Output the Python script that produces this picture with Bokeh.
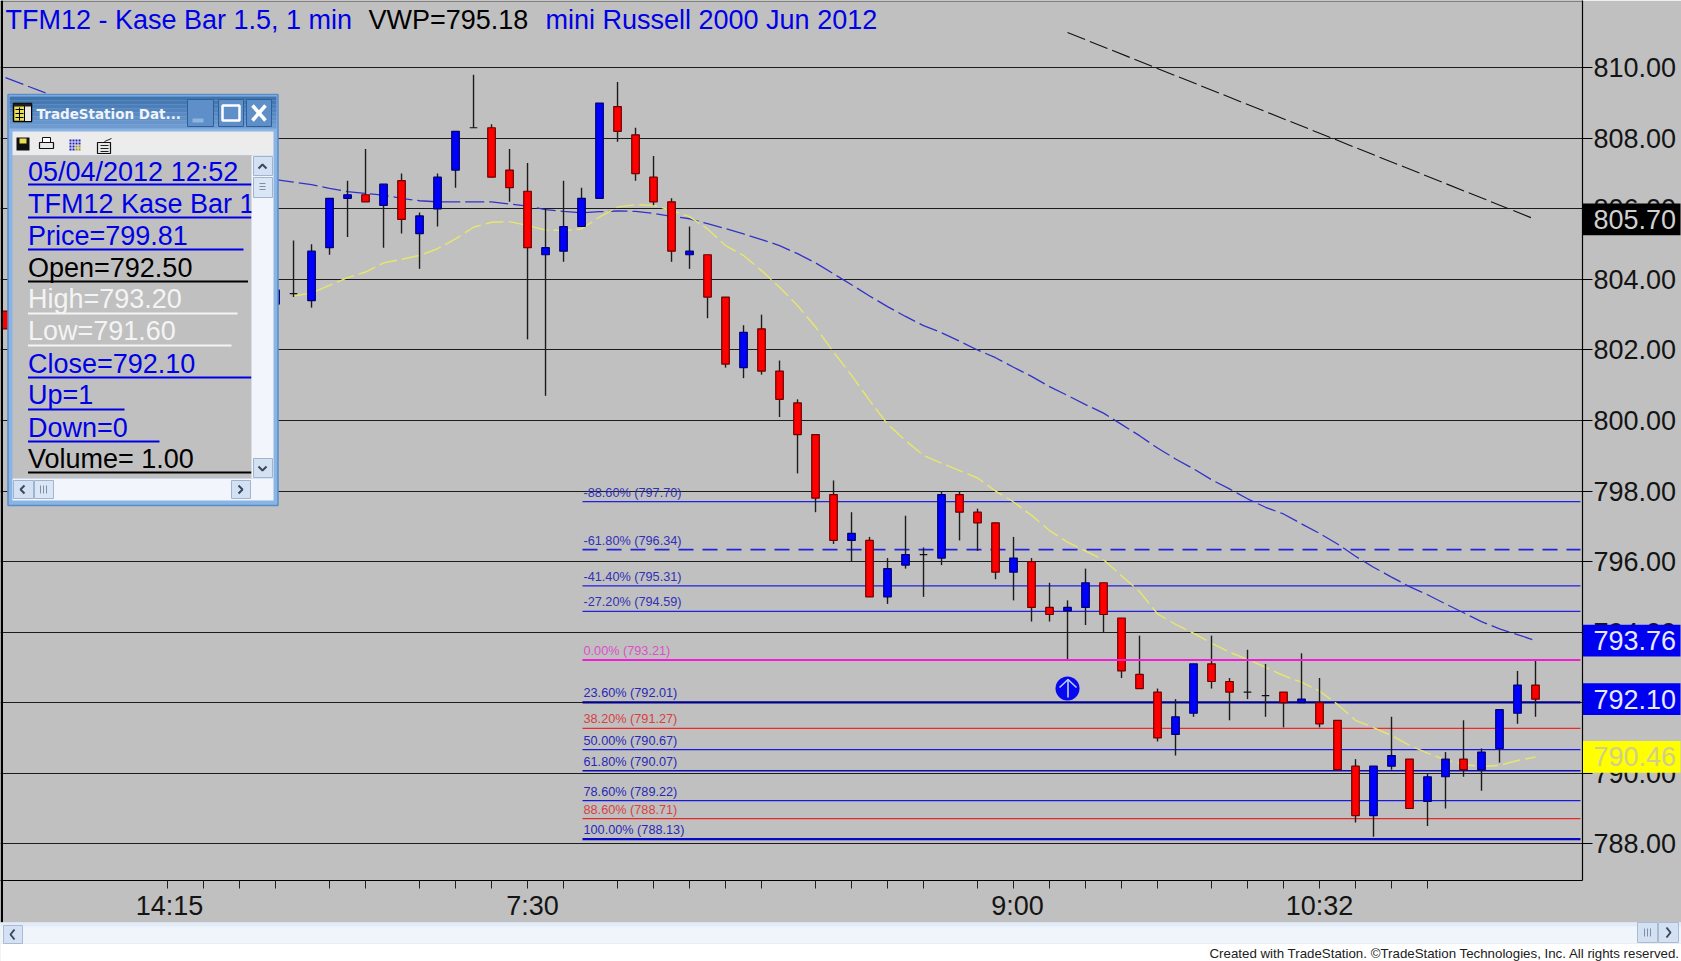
from bokeh.embed import file_html
from bokeh.resources import INLINE
from bokeh.plotting import figure
from bokeh.layouts import row
from bokeh.models import Range1d, FixedTicker, ColumnDataSource, NumeralTickFormatter
from bokeh.core.properties import value

# ---------- data (bars counted back from the last one) ----------
bar_back = [85, 70] + list(range(69, -1, -1))
open_ = [803.1, 803.3, 803.6, 803.4, 804.9, 806.3, 806.4, 806.1, 806.8, 805.3, 806.0, 807.1, 808.3, 808.3, 807.1,
         806.5, 804.7, 804.8, 805.5, 806.3, 808.9, 808.1, 806.9, 806.2, 804.7, 804.7, 803.5, 801.5, 802.6, 801.4,
         800.5, 799.6, 797.9, 796.6, 796.6, 795.0, 795.9, 796.2, 796.1, 797.9, 797.4, 797.1, 795.7, 796.0, 794.7,
         794.6, 794.7, 795.4, 794.4, 792.8, 792.3, 791.1, 791.7, 793.1, 792.6, 792.3, 792.2, 792.3, 792.0, 792.0,
         791.5, 790.2, 788.8, 790.2, 790.4, 789.2, 789.9, 790.4, 790.1, 790.7, 791.7, 792.5]
high = [803.1, 803.9, 805.1, 805.0, 806.3, 806.8, 807.7, 806.7, 807.0, 805.9, 807.0, 808.2, 809.8, 808.4, 807.7,
        807.3, 806.0, 806.8, 806.6, 809.0, 809.6, 808.3, 807.5, 806.3, 805.5, 804.7, 803.5, 802.7, 803.0, 801.7,
        800.6, 799.6, 798.3, 797.4, 796.7, 796.1, 797.3, 796.4, 798.0, 798.0, 797.5, 797.1, 796.7, 796.1, 795.4,
        794.9, 795.8, 795.4, 794.4, 793.9, 792.4, 792.1, 793.1, 793.9, 792.7, 793.5, 793.1, 792.3, 793.4, 792.7,
        791.5, 790.4, 790.2, 791.6, 790.4, 790.0, 790.6, 791.5, 790.7, 791.8, 792.9, 793.2]
low = [802.6, 803.1, 803.5, 803.2, 804.7, 805.2, 806.2, 804.9, 805.3, 804.3, 805.5, 806.6, 808.3, 806.9, 806.2,
       802.3, 800.7, 804.5, 805.5, 806.3, 807.9, 806.8, 806.1, 804.5, 804.3, 802.9, 801.5, 801.2, 801.3, 800.1,
       798.5, 797.4, 796.5, 796.0, 795.0, 794.8, 795.8, 795.0, 795.9, 796.6, 796.3, 795.5, 794.9, 794.3, 794.3,
       793.2, 794.2, 794.0, 792.7, 792.4, 790.9, 790.5, 791.6, 792.4, 791.5, 792.1, 791.6, 791.3, 792.0, 791.3,
       790.1, 788.6, 788.2, 790.1, 789.0, 788.5, 789.0, 789.9, 789.5, 790.3, 791.4, 791.6]
close = [802.6, 803.7, 803.6, 804.8, 806.3, 806.4, 806.2, 806.7, 805.7, 805.8, 806.9, 808.2, 808.3, 806.9, 806.6,
         804.9, 804.9, 805.5, 806.3, 809.0, 808.2, 807.0, 806.2, 804.8, 804.8, 803.5, 801.6, 802.5, 801.4, 800.6,
         799.6, 797.8, 796.6, 796.8, 795.0, 795.8, 796.2, 796.2, 797.9, 797.4, 797.1, 795.7, 796.1, 794.7, 794.5,
         794.7, 795.4, 794.5, 792.9, 792.4, 791.0, 791.6, 793.1, 792.6, 792.3, 792.3, 792.2, 792.0, 792.1, 791.4,
         790.1, 788.8, 790.2, 790.5, 789.0, 789.9, 790.4, 790.1, 790.6, 791.8, 792.5, 792.1]

blue_back = [85, 83] + list(range(70, -1, -1))
blue_ma = [809.72, 809.33, 806.83, 806.76, 806.69, 806.58, 806.49, 806.44, 806.39, 806.30, 806.23, 806.20, 806.20,
           806.20, 806.20, 806.14, 806.08, 805.98, 805.93, 805.89, 805.92, 805.94, 805.93, 805.87, 805.79, 805.72,
           805.58, 805.44, 805.29, 805.13, 804.96, 804.73, 804.47, 804.16, 803.85, 803.53, 803.23, 802.95, 802.69,
           802.49, 802.25, 802.00, 801.78, 801.51, 801.25, 800.96, 800.71, 800.45, 800.21, 799.89, 799.57, 799.22,
           798.91, 798.63, 798.32, 798.06, 797.78, 797.54, 797.35, 797.07, 796.80, 796.50, 796.15, 795.84, 795.56,
           795.29, 795.06, 794.80, 794.55, 794.30, 794.09, 793.93, 793.76]
yellow_back = list(range(69, -1, -1))
yellow_ma = [803.53, 803.62, 803.83, 804.05, 804.21, 804.47, 804.57, 804.68, 804.87, 805.15, 805.48, 805.62, 805.64,
             805.53, 805.40, 805.39, 805.43, 805.77, 806.05, 806.12, 806.10, 805.96, 805.78, 805.43, 804.96, 804.68,
             804.25, 803.78, 803.26, 802.65, 801.94, 801.28, 800.57, 799.90, 799.43, 799.01, 798.79, 798.58, 798.37,
             798.00, 797.69, 797.31, 796.88, 796.55, 796.30, 796.05, 795.60, 795.15, 794.52, 794.22, 793.97, 793.69,
             793.43, 793.23, 793.00, 792.77, 792.58, 792.33, 791.95, 791.50, 791.29, 791.07, 790.79, 790.57, 790.38,
             790.25, 790.19, 790.22, 790.36, 790.46]
trend_back = [26, 0]
trend_price = [811.0, 805.70]

fib_pct = ["-88.60%", "-61.80%", "-41.40%", "-27.20%", "0.00%", "23.60%", "38.20%", "50.00%", "61.80%", "78.60%", "88.60%", "100.00%"]
fib_price = [797.70, 796.34, 795.31, 794.59, 793.21, 792.01, 791.27, 790.67, 790.07, 789.22, 788.71, 788.13]
fib_line_color = ["#2222dd", "#2222dd", "#2222dd", "#2222dd", "#f01ed2", "#00008c", "#f02828", "#1818dc", "#0c0cb4", "#1818dc", "#e62828", "#0808c8"]
fib_text_color = ["#3030b8", "#3030b8", "#3030b8", "#3030b8", "#dc50c8", "#2828b8", "#d84040", "#2828b8", "#2828b8", "#2828b8", "#d84040", "#2828b8"]
fib_width = [1.2, 1.6, 1.2, 1.2, 2, 2.2, 1.2, 1.2, 1.6, 1.2, 1.2, 2.2]

price_ticks = [810, 808, 806, 804, 802, 800, 798, 796, 794, 792, 790, 788]
time_tick_back = [76, 74, 72, 70, 67, 65, 62, 60, 58, 56, 54, 51, 49, 47, 45, 43, 40, 38, 36, 34, 31, 29, 27, 25, 23, 21, 18, 16, 14, 12, 10, 8, 6]
time_labels = {75.89: "14:15", 55.72: "7:30", 28.78: "9:00", 12: "10:32"}

flag_price = [805.70, 793.76, 792.10, 790.46]
flag_fill = ["#000000", "#0000f0", "#0000f0", "#ffff00"]
flag_text = ["#d0d0d0", "#e8e8ff", "#e8e8ff", "#cfcf8c"]

panel_rows = ["05/04/2012 12:52", "TFM12 Kase Bar 1.", "Price=799.81", "Open=792.50", "High=793.20",
              "Low=791.60", "Close=792.10", "Up=1", "Down=0", "Volume= 1.00"]
panel_color = ["#0000e6", "#0000e6", "#0000e6", "#000000", "#f4f4f4", "#f4f4f4", "#0000e6", "#0000e6", "#0000e6", "#000000"]
panel_rule_end = [251, 251, 243, 247.5, 237, 231, 251, 124, 159, 251]

FONT = value("Liberation Sans")
BG = "#c0c0c0"

# ---------- main chart ----------
p = figure(width=1681, height=961, output_backend="svg", toolbar_location=None,
           x_range=Range1d(-85.28, 2.611), y_range=Range1d(786.958, 811.908),
           y_axis_location="right", x_axis_location="below",
           min_border_left=0, min_border_right=99, min_border_top=0, min_border_bottom=81,
           background_fill_color=BG, border_fill_color=BG, outline_line_color=None)
p.extra_x_ranges = {"px": Range1d(0, 1582)}
p.extra_y_ranges = {"py": Range1d(880, 0)}

p.xgrid.visible = False
p.ygrid.ticker = FixedTicker(ticks=price_ticks)
p.ygrid.grid_line_color = "#1c1c1c"
p.ygrid.grid_line_width = 1.2

ax = p.yaxis[0]
ax.ticker = FixedTicker(ticks=price_ticks)
ax.formatter = NumeralTickFormatter(format="0.00")
ax.major_label_text_font = "Liberation Sans"
ax.major_label_text_font_size = "27px"
ax.major_label_text_color = "#141414"
ax.major_tick_out = 10
ax.major_tick_in = 0
ax.minor_tick_line_color = None
ax.major_tick_line_color = "#000000"
ax.axis_line_color = "#000000"
ax.axis_line_width = 1.2
ax.major_label_standoff = 1

bx = p.xaxis[0]
bx.ticker = FixedTicker(ticks=[-k for k in time_labels], minor_ticks=[-k for k in time_tick_back])
bx.major_label_overrides = {-k: t for k, t in time_labels.items()}
bx.major_label_text_font = "Liberation Sans"
bx.major_label_text_font_size = "27px"
bx.major_label_text_color = "#141414"
bx.major_tick_line_color = None
bx.major_tick_out = 8
bx.major_tick_in = 0
bx.minor_tick_out = 8
bx.minor_tick_in = 0
bx.minor_tick_line_color = "#202020"
bx.axis_line_color = "#000000"
bx.axis_line_width = 1.2
bx.major_label_standoff = 2

PX = dict(x_range_name="px", y_range_name="py")

# top edge
p.quad(left=0, right=1582, top=0, bottom=1.5, fill_color="#808080", line_color=None, **PX)

# fibonacci levels (except the magenta one, on top of bars)
for i, (lv, col, w) in enumerate(zip(fib_price, fib_line_color, fib_width)):
    if fib_pct[i] == "0.00%":
        continue
    p.line([582, 1580], [lv, lv], x_range_name="px", line_color=col, line_width=w,
           line_dash="15 9" if fib_pct[i] == "-61.80%" else "solid")
p.text(x=[583] * len(fib_price), y=fib_price, text=[f"{a} ({b:.2f})" for a, b in zip(fib_pct, fib_price)],
       x_range_name="px", text_color=fib_text_color, text_font=FONT, text_font_size="12.7px",
       text_baseline="bottom", y_offset=-2)

# moving averages & trend
p.line([-k for k in blue_back], blue_ma, line_color="#3232c8", line_width=1.3, line_dash="19 5")
p.line([-k for k in yellow_back], yellow_ma, line_color="#e6e66e", line_width=1.4, line_dash="18 5")
p.line([-k for k in trend_back], trend_price, line_color="#101010", line_width=1.1, line_dash="19 5")

# candles
xs = [-k for k in bar_back]
fills = ["#0000ff" if c > o_ else "#ff0000" if c < o_ else "#000000" for o_, c in zip(open_, close)]
edges = ["#00006e" if c > o_ else "#6e0000" if c < o_ else "#101010" for o_, c in zip(open_, close)]
src = ColumnDataSource(dict(x=xs, h=high, l=low, top=[max(a, b) for a, b in zip(open_, close)],
                            bot=[min(a, b) for a, b in zip(open_, close)], fill=fills, edge=edges))
p.segment("x", "h", "x", "l", source=src, line_color="#1c1c1c", line_width=1.4)
p.vbar(x="x", top="top", bottom="bot", width=0.42, source=src, fill_color="fill", line_color="edge", line_width=1.2)

# 0% level on top
p.line([582, 1580], [fib_price[4]] * 2, x_range_name="px", line_color=fib_line_color[4], line_width=2)

# signal arrow
p.scatter([-26], [792.4], size=24, fill_color="#0808f0", line_color=None)
p.multi_line([[1067.5, 1067.5], [1059, 1067.5, 1076]], [[697, 679], [687, 679, 687]],
             line_color="#b8d0f8", line_width=1.6, **PX)

# title
p.text(x=[5, 368, 545], y=[19.5] * 3,
       text=["TFM12 - Kase Bar 1.5, 1 min", "VWP=795.18", "mini Russell 2000 Jun 2012"],
       text_color=["#0000e6", "#000000", "#0000e6"], text_font=FONT, text_font_size="27px",
       text_baseline="middle", **PX)


# ---------- floating data window ----------
def box(l, r, t, b, fill, line=None, w=1):
    p.quad(left=l, right=r, top=t, bottom=b, fill_color=fill, line_color=line, line_width=w, **PX)


box(7.5, 277.5, 94, 505, "#8ab4e4", "#5a8cc8", 1.5)
strips = ["#3f75ad", "#4679b2", "#4c7fb8", "#5384bd", "#5a8ac3", "#6190c8", "#6896cc", "#709bd0"]
for i, c in enumerate(strips):
    box(9, 276, 96 + i * 4, 100 + i * 4, c)
box(12, 273, 131, 155, "#ececec")
box(12, 252, 155, 478, BG)
p.text(x=[27.5] * 10, y=[171, 203, 235, 267, 298, 330, 363, 394, 427, 458], text=panel_rows,
       text_color=panel_color, text_font=FONT, text_font_size="27px", text_baseline="middle", **PX)
for i, yr in enumerate([184, 217, 249, 281, 313, 345, 377, 409, 441, 472]):
    p.line([27.5, panel_rule_end[i]], [yr, yr], line_color=panel_color[i], line_width=2, **PX)
box(251, 273, 155, 478, "#f2f6fc")
box(253, 272, 156, 175, "#d4e1f2", "#9fb4d0")
box(253, 272, 177, 197, "#dbe6f5", "#9fb4d0")
box(253, 272, 458, 477, "#d4e1f2", "#9fb4d0")
box(12, 273, 478, 500, "#f2f6fc")
box(13, 33, 480, 498, "#d4e1f2", "#9fb4d0")
box(34, 53, 480, 498, "#dbe6f5", "#9fb4d0")
box(231, 250, 480, 498, "#d4e1f2", "#9fb4d0")
p.multi_line([[258, 262, 266], [258, 262, 266], [24, 20, 24], [238, 242, 238]],
             [[168, 164, 168], [466, 470, 466], [485, 489, 493], [485, 489, 493]],
             line_color="#384860", line_width=2, **PX)
p.multi_line([[259, 265], [259, 265], [259, 265], [40, 40], [43, 43], [46, 46]],
             [[183, 183], [186, 186], [189, 189], [485, 493], [485, 493], [485, 493]],
             line_color="#7f8ea8", line_width=1, **PX)
# title bar
box(13, 31, 103, 121, "#e8e050", "#000000", 1.5)
box(24, 31, 103, 121, "#e8e8e8", "#000000", 1)
box(13, 31, 103, 106, "#202020")
p.multi_line([[15, 23], [15, 23], [15, 23], [19, 19]], [[109, 109], [113, 113], [117, 117], [107, 120]],
             line_color="#000000", line_width=1, **PX)
p.text(x=[36], y=[113], text=["TradeStation Dat..."], text_color="#f0f4fa",
       text_font=value("DejaVu Sans"), text_font_style="bold", text_font_size="13.5px", text_baseline="middle", **PX)
box(187, 213, 99, 126, "#5e8fc8", "#2f5f98")
box(218, 243, 99, 126, "#5e8fc8", "#2f5f98")
box(246, 271, 99, 126, "#5e8fc8", "#2f5f98")
box(192, 203, 118, 122, "#8fb4e0")
p.quad(left=222, right=239, top=105, bottom=120, fill_color=None, line_color="#ffffff", line_width=2.5, **PX)
p.multi_line([[252, 265], [265, 252]], [[105, 120], [105, 120]], line_color="#ffffff", line_width=3.5, **PX)
# toolbar icons
box(16, 29, 137, 150, "#101010")
box(19, 26, 138, 143, "#e8e050")
box(39, 53, 142, 148, "#e8e8e8", "#101010", 1.2)
box(42, 50, 137, 142, "#ffffff", "#101010", 1)
for yi in range(4):
    for xi in range(4):
        box(69 + xi * 3, 71 + xi * 3, 139 + yi * 3, 141 + yi * 3, "#2020c0" if xi < 2 or yi < 2 else "#a09020")
box(97, 110, 142, 153, "#e8e8e8", "#101010", 1.2)
p.multi_line([[100, 108], [100, 108], [100, 108], [104, 111]], [[145, 145], [148, 148], [151, 151], [141, 138]],
             line_color="#202020", line_width=1, **PX)

# ---------- transparent overlay: price flags, window bottom strip, footer ----------
o = figure(frame_width=1681, frame_height=961, output_backend="svg", toolbar_location=None,
           x_range=Range1d(0, 1681), y_range=Range1d(784.661, 811.908),
           x_axis_location=None, y_axis_location=None,
           min_border_left=0, min_border_right=0, min_border_top=0, min_border_bottom=0,
           background_fill_color=None, border_fill_color=None, outline_line_color=None,
           margin=(0, 0, 0, -1681))
o.grid.visible = False
o.extra_y_ranges = {"py": Range1d(961, 0)}
OY = dict(y_range_name="py")

o.quad(left=0, right=2.5, top=0, bottom=922, fill_color="#000000", line_color=None, **OY)
o.quad(left=0, right=1681, top=922, bottom=943, fill_color="#f0f5fc", line_color=None, **OY)
o.quad(left=0, right=1681, top=922, bottom=926, fill_color="#e2ecf9", line_color=None, **OY)
o.quad(left=0, right=1681, top=943, bottom=961, fill_color="#ffffff", line_color=None, **OY)
o.quad(left=[3, 1637, 1658], right=[22, 1657, 1678], top=[925, 922, 922], bottom=[943, 942, 942],
       fill_color="#d4e1f2", line_color="#a8bcd8", **OY)
o.multi_line([[14, 10, 14], [1666, 1670, 1666]], [[929, 934, 939], [927, 932, 937]],
             line_color="#384860", line_width=2, **OY)
o.multi_line([[1644, 1644], [1647, 1647], [1650, 1650]], [[928, 936], [928, 936], [928, 936]],
             line_color="#7f8ea8", line_width=1, **OY)
o.text(x=[1209], y=[953], text=["Created with TradeStation. ©TradeStation Technologies, Inc. All rights reserved."],
       text_color="#202020", text_font=FONT, text_font_size="13.3px", text_baseline="middle", **OY)

o.quad(left=1582.5, right=1680, top=[v + 0.45 for v in flag_price], bottom=[v - 0.45 for v in flag_price],
       fill_color=flag_fill, line_color=None)
o.text(x=[1593] * len(flag_price), y=flag_price, text=[f"{v:.2f}" for v in flag_price], text_color=flag_text,
       text_font=FONT, text_font_size="27px", text_baseline="middle")

open("out.html", "w").write(file_html(row(p, o), INLINE))
